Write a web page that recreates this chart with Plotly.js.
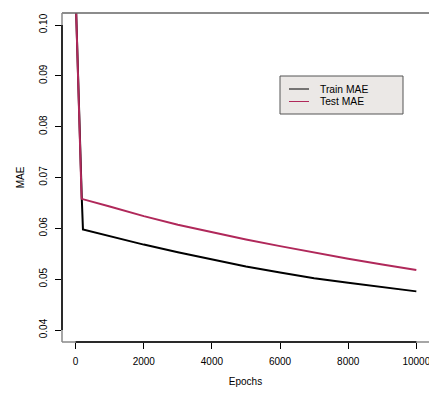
<!DOCTYPE html>
<html>
<head>
<meta charset="utf-8">
<script src="https://cdn.plot.ly/plotly-3.0.1.min.js"></script>
<style>html,body{margin:0;padding:0;background:#fff;}#chart{width:429px;height:394px;}</style>
</head>
<body>
<div id="chart"></div>
<script>
// Data
const trainEpochs = [0, 50, 100, 150, 180, 215, 1000, 2000, 3000, 4000, 5000, 6000, 7000, 8000, 9000, 10000];
const trainMAE    = [0.106, 0.094, 0.082, 0.071, 0.066, 0.0598, 0.0585, 0.0568, 0.0553, 0.0539, 0.0525, 0.0513, 0.0502, 0.0493, 0.0484, 0.0476];
const testEpochs  = [0, 50, 100, 150, 176, 1000, 2000, 3000, 4000, 5000, 6000, 7000, 8000, 9000, 10000];
const testMAE     = [0.106, 0.094, 0.083, 0.072, 0.0658, 0.0643, 0.0624, 0.0607, 0.0592, 0.0578, 0.0565, 0.0552, 0.0540, 0.0529, 0.0518];
const seriesNames = ["Train MAE", "Test MAE"];
const xTicks = [0, 2000, 4000, 6000, 8000, 10000];
const yTicks = [0.04, 0.05, 0.06, 0.07, 0.08, 0.09, 0.10];
const yTickText = ["0.04", "0.05", "0.06", "0.07", "0.08", "0.09", "0.10"];

const colors = ["#000000", "#b0285a"];
const font = {family: "Liberation Sans, Arial, sans-serif", size: 10, color: "#000"};
const traces = [
  {x: trainEpochs, y: trainMAE, mode: "lines", name: seriesNames[0], line: {color: colors[0], width: 2}},
  {x: testEpochs, y: testMAE, mode: "lines", name: seriesNames[1], line: {color: colors[1], width: 2}}
];

// legend box drawn in paper coordinates (plot area 367 x 329 px)
const W = 367, H = 329;
const px = v => (v - 62) / W;
const py = v => (342 - v) / H;
const legendShapes = [
  {type: "rect", xref: "paper", yref: "paper", x0: px(280), x1: px(403), y0: py(114), y1: py(76),
   fillcolor: "#ebe8e6", line: {color: "#555", width: 1}, layer: "above"},
  {type: "line", xref: "paper", yref: "paper", x0: px(289), x1: px(309), y0: py(89), y1: py(89),
   line: {color: colors[0], width: 1}, layer: "above"},
  {type: "line", xref: "paper", yref: "paper", x0: px(289), x1: px(309), y0: py(101.5), y1: py(101.5),
   line: {color: colors[1], width: 1}, layer: "above"}
];
const legendText = seriesNames.map((n, i) => ({
  xref: "paper", yref: "paper", x: px(318), y: py(i === 0 ? 89 : 101.5), xanchor: "left", yanchor: "middle",
  text: n, showarrow: false, font: {family: font.family, size: 10.3, color: "#000"}
}));

const layout = {
  width: 429, height: 394,
  margin: {l: 62, r: 0, t: 13, b: 52},
  paper_bgcolor: "#fff", plot_bgcolor: "#fff",
  font: font,
  showlegend: false,
  xaxis: {range: [-400, 10372], showgrid: false, zeroline: false, showline: false,
          tickmode: "array", tickvals: xTicks, ticktext: xTicks.map(String),
          ticks: "outside", ticklen: 6, tickcolor: "#000", tickwidth: 1,
          ticklabelstandoff: 4, ticklabeloverflow: "allow",
          title: {text: "Epochs", font: font, standoff: 11}},
  yaxis: {range: [0.03764, 0.10236], showgrid: false, zeroline: false, showline: false,
          tickmode: "array", tickvals: yTicks, ticktext: yTickText, tickangle: -90,
          ticks: "outside", ticklen: 6, tickcolor: "#000", tickwidth: 1,
          ticklabelstandoff: 4,
          title: {text: "MAE", font: font, standoff: 11}},
  shapes: [
    {type: "line", xref: "paper", yref: "paper", x0: 0, x1: 1, y0: 1, y1: 1, line: {color: "#666", width: 1.5}},
    {type: "line", xref: "paper", yref: "paper", x0: 0, x1: 1, y0: 0, y1: 0, line: {color: "#888", width: 1.5}},
    {type: "line", xref: "paper", yref: "paper", x0: 0, x1: 0, y0: 0, y1: 1, line: {color: "#888", width: 1.5}},
    {type: "line", xref: "x", yref: "paper", x0: 0, x1: 10000, y0: 0, y1: 0, line: {color: "#000", width: 1.5}},
    {type: "line", xref: "paper", yref: "y", x0: 0, x1: 0, y0: 0.04, y1: 0.10, line: {color: "#000", width: 1.5}}
  ].concat(legendShapes),
  annotations: legendText
};
Plotly.newPlot("chart", traces, layout, {displayModeBar: false, staticPlot: true});
</script>
</body>
</html>
